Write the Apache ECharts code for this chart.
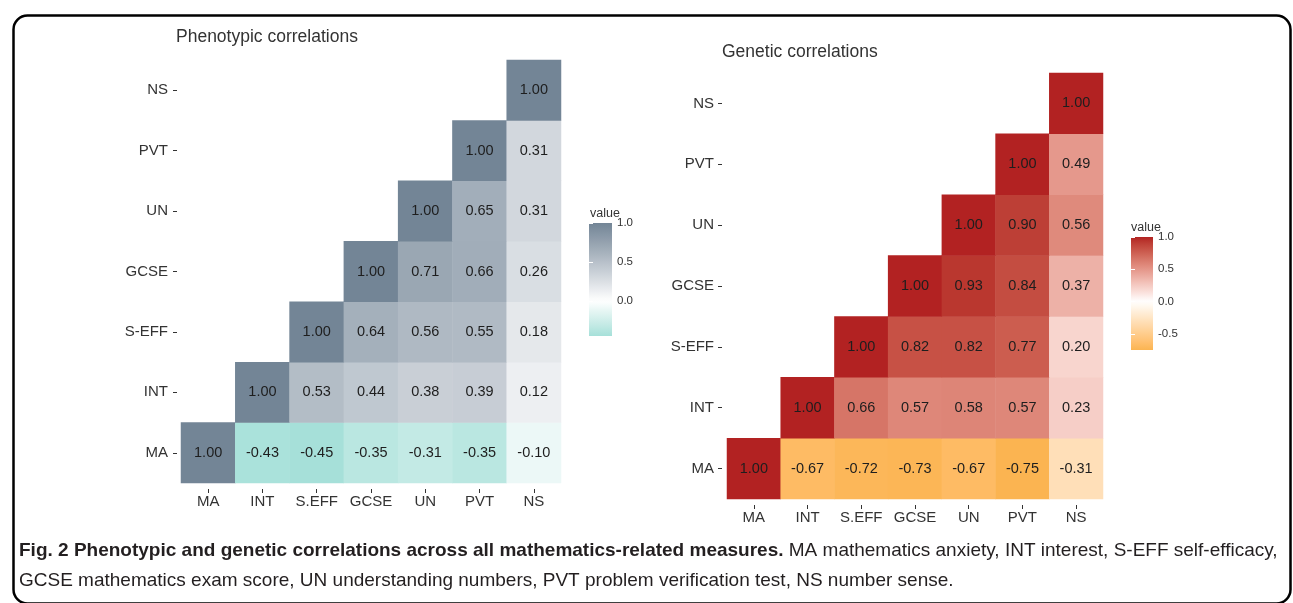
<!DOCTYPE html>
<html>
<head>
<meta charset="utf-8">
<script src="https://cdn.jsdelivr.net/npm/echarts@6/dist/echarts.min.js"></script>
<style>
html,body{margin:0;padding:0;background:#fff;}
#chart{width:1293px;height:603px;}
</style>
</head>
<body>
<div id="chart"></div>
<script>
// ---------- DATA ----------
const xLabels = ['MA', 'INT', 'S.EFF', 'GCSE', 'UN', 'PVT', 'NS'];
const yLabels = ['MA', 'INT', 'S-EFF', 'GCSE', 'UN', 'PVT', 'NS'];

// Phenotypic correlations: each row starts at the diagonal
const phenoMA   = [1.00, -0.43, -0.45, -0.35, -0.31, -0.35, -0.10];
const phenoINT  = [1.00, 0.53, 0.44, 0.38, 0.39, 0.12];
const phenoSEFF = [1.00, 0.64, 0.56, 0.55, 0.18];
const phenoGCSE = [1.00, 0.71, 0.66, 0.26];
const phenoUN   = [1.00, 0.65, 0.31];
const phenoPVT  = [1.00, 0.31];
const phenoNS   = [1.00];

// Genetic correlations
const genMA   = [1.00, -0.67, -0.72, -0.73, -0.67, -0.75, -0.31];
const genINT  = [1.00, 0.66, 0.57, 0.58, 0.57, 0.23];
const genSEFF = [1.00, 0.82, 0.82, 0.77, 0.20];
const genGCSE = [1.00, 0.93, 0.84, 0.37];
const genUN   = [1.00, 0.90, 0.56];
const genPVT  = [1.00, 0.49];
const genNS   = [1.00];

const phenoTicks = [0, 0.5, 1];
const genTicks = [-0.5, 0, 0.5, 1];

const captionBold = 'Fig. 2 Phenotypic and genetic correlations across all mathematics-related measures.';
const captionLine1 = ' MA mathematics anxiety, INT interest, S-EFF self-efficacy,';
const captionLine2 = 'GCSE mathematics exam score, UN understanding numbers, PVT problem verification test, NS number sense.';

// ---------- helpers ----------
function buildCells(rows) {
  const out = [];
  rows.forEach((row, r) => row.forEach((v, k) => out.push([r + k, r, v])));
  return out;
}
const phenoData = buildCells([phenoMA, phenoINT, phenoSEFF, phenoGCSE, phenoUN, phenoPVT, phenoNS]);
const genData = buildCells([genMA, genINT, genSEFF, genGCSE, genUN, genPVT, genNS]);
const phenoMin = Math.min(...phenoData.map(d => d[2]));
const phenoMax = Math.max(...phenoData.map(d => d[2]));
const genMin = Math.min(...genData.map(d => d[2]));
const genMax = Math.max(...genData.map(d => d[2]));

// CIELAB interpolation (like ggplot's gradient2)
function hexToRgb(h) { h = h.replace('#', ''); return [0, 2, 4].map(i => parseInt(h.substr(i, 2), 16)); }
function toLin(c) { c /= 255; return c <= 0.04045 ? c / 12.92 : Math.pow((c + 0.055) / 1.055, 2.4); }
function fromLin(c) { const v = c <= 0.0031308 ? 12.92 * c : 1.055 * Math.pow(c, 1 / 2.4) - 0.055; return Math.round(Math.max(0, Math.min(1, v)) * 255); }
function rgbToLab(rgb) {
  const [R, G, B] = rgb.map(toLin);
  let X = 0.4124 * R + 0.3576 * G + 0.1805 * B;
  let Y = 0.2126 * R + 0.7152 * G + 0.0722 * B;
  let Z = 0.0193 * R + 0.1192 * G + 0.9505 * B;
  X /= 0.95047; Z /= 1.08883;
  const f = t => t > 0.008856 ? Math.cbrt(t) : 7.787 * t + 16 / 116;
  const fx = f(X), fy = f(Y), fz = f(Z);
  return [116 * fy - 16, 500 * (fx - fy), 200 * (fy - fz)];
}
function labToHex(lab) {
  const [L, a, b] = lab;
  const fy = (L + 16) / 116, fx = fy + a / 500, fz = fy - b / 200;
  const inv = t => t * t * t > 0.008856 ? t * t * t : (t - 16 / 116) / 7.787;
  const X = inv(fx) * 0.95047, Y = inv(fy), Z = inv(fz) * 1.08883;
  const R = 3.2406 * X - 1.5372 * Y - 0.4986 * Z;
  const G = -0.9689 * X + 1.8758 * Y + 0.0415 * Z;
  const B = 0.0557 * X - 0.2040 * Y + 1.0570 * Z;
  return '#' + [R, G, B].map(c => fromLin(c).toString(16).padStart(2, '0')).join('');
}
function makeScale(lowHex, lowVal, highHex, highVal) {
  const W = rgbToLab([255, 255, 255]), Lo = rgbToLab(hexToRgb(lowHex)), Hi = rgbToLab(hexToRgb(highHex));
  return v => {
    const t = v >= 0 ? v / highVal : v / lowVal;
    const tgt = v >= 0 ? Hi : Lo;
    return labToHex(W.map((w, i) => w + (tgt[i] - w) * t));
  };
}
const phenoColor = makeScale('#a6e0d9', phenoMin, '#738596', phenoMax);
const genColor = makeScale('#fbb451', genMin, '#b22222', genMax);
function stops(fn, min, max, n) {
  const arr = [];
  for (let i = 0; i < n; i++) arr.push(fn(min + (max - min) * i / (n - 1)));
  return arr;
}
function gradStops(fn, min, max, n) {
  const arr = [];
  for (let i = 0; i <= n; i++) arr.push({ offset: i / n, color: fn(max - (max - min) * i / n) });
  return arr;
}

// ---------- chart ----------
const FONT = '"Liberation Sans", Arial, sans-serif';
const chart = echarts.init(document.getElementById('chart'), null, { renderer: 'canvas' });

function catX(grid, offset, margin) {
  return {
    gridIndex: grid, type: 'category', data: xLabels, position: 'bottom', offset: offset,
    axisLine: { show: false },
    axisTick: { show: true, length: 4, alignWithLabel: true, interval: 0, lineStyle: { color: '#333' } },
    axisLabel: { interval: 0, hideOverlap: false, margin: margin, fontSize: 15, color: '#333', fontFamily: FONT },
    splitLine: { show: false }
  };
}
function catY(grid, offset, margin) {
  return {
    gridIndex: grid, type: 'category', data: yLabels, offset: offset,
    axisLine: { show: false },
    axisTick: { show: true, length: 4, alignWithLabel: true, interval: 0, lineStyle: { color: '#333' } },
    axisLabel: { interval: 0, hideOverlap: false, margin: margin, fontSize: 15, color: '#333', fontFamily: FONT },
    splitLine: { show: false }
  };
}
function legY(grid, min, max, ticks, pos, showLabels) {
  return {
    gridIndex: grid, type: 'value', min: min, max: max, position: pos, z: 10,
    axisLine: { show: false }, splitLine: { show: false },
    axisTick: { show: true, inside: true, length: 4, customValues: ticks, lineStyle: { color: '#ffffff', width: 1 } },
    axisLabel: { show: showLabels, customValues: ticks, formatter: v => v.toFixed(1), margin: 5, fontSize: 11.5, color: '#333', fontFamily: FONT }
  };
}
function heat(xi, yi, data) {
  return {
    type: 'heatmap', xAxisIndex: xi, yAxisIndex: yi, data: data,
    label: { show: true, formatter: p => p.value[2].toFixed(2), fontSize: 14.5, color: '#1e1e1e', fontFamily: FONT },
    emphasis: { disabled: true }, silent: true
  };
}
function colorbar(xi, yi, fn, min, max) {
  return {
    type: 'custom', xAxisIndex: xi, yAxisIndex: yi, data: [[0, 0]], silent: true,
    renderItem: (params, api) => {
      const p0 = api.coord([0, max]);
      const p1 = api.coord([1, min]);
      return {
        type: 'rect',
        shape: { x: p0[0], y: p0[1], width: p1[0] - p0[0], height: p1[1] - p0[1] },
        style: { fill: new echarts.graphic.LinearGradient(0, 0, 0, 1, gradStops(fn, min, max, 30)) }
      };
    }
  };
}

const option = {
  backgroundColor: '#ffffff',
  animation: false,
  textStyle: { fontFamily: FONT },
  title: [
    { text: 'Phenotypic correlations', left: 176, top: 28, padding: 0, textStyle: { fontSize: 17.5, fontWeight: 'normal', color: '#333', fontFamily: FONT } },
    { text: 'Genetic correlations', left: 722, top: 43, padding: 0, textStyle: { fontSize: 17.5, fontWeight: 'normal', color: '#333', fontFamily: FONT } }
  ],
  grid: [
    { left: 181, top: 60, width: 380, height: 423 },
    { left: 727, top: 73, width: 376, height: 426 },
    { left: 589, top: 223, width: 23, height: 113 },
    { left: 1131, top: 237, width: 22, height: 113 }
  ],
  xAxis: [
    catX(0, 6, 5),
    catX(1, 6, 5),
    { gridIndex: 2, type: 'value', min: 0, max: 1, show: false },
    { gridIndex: 3, type: 'value', min: 0, max: 1, show: false }
  ],
  yAxis: [
    catY(0, 4, 9),
    catY(1, 5, 8),
    legY(2, phenoMin, phenoMax, phenoTicks, 'right', true),
    legY(2, phenoMin, phenoMax, phenoTicks, 'left', false),
    legY(3, genMin, genMax, genTicks, 'right', true),
    legY(3, genMin, genMax, genTicks, 'left', false)
  ],
  visualMap: [
    { type: 'continuous', show: false, seriesIndex: 0, dimension: 2, min: phenoMin, max: phenoMax, inRange: { color: stops(phenoColor, phenoMin, phenoMax, 41) } },
    { type: 'continuous', show: false, seriesIndex: 1, dimension: 2, min: genMin, max: genMax, inRange: { color: stops(genColor, genMin, genMax, 41) } }
  ],
  series: [
    heat(0, 0, phenoData),
    heat(1, 1, genData),
    colorbar(2, 2, phenoColor, phenoMin, phenoMax),
    colorbar(3, 4, genColor, genMin, genMax)
  ],
  graphic: [
    { type: 'rect', left: 11, top: 13, z: 100, silent: true,
      shape: { x: 0, y: 0, width: 1277, height: 588, r: 14 },
      style: { fill: 'none', stroke: '#000', lineWidth: 2.5 } },
    { type: 'text', left: 590, top: 207, style: { text: 'value', font: '12.5px ' + FONT, fill: '#333' } },
    { type: 'text', left: 1131, top: 221, style: { text: 'value', font: '12.5px ' + FONT, fill: '#333' } },
    { type: 'text', left: 19, top: 541, style: {
        text: '{b|' + captionBold + '}{n|' + captionLine1 + '}',
        rich: {
          b: { fontFamily: FONT, fontSize: 19, fontWeight: 'bold', fill: '#231f20' },
          n: { fontFamily: FONT, fontSize: 19, fill: '#231f20' }
        }
      } },
    { type: 'text', left: 19, top: 571, style: { text: captionLine2, font: '19px ' + FONT, fill: '#231f20' } }
  ]
};
chart.setOption(option);
</script>
</body>
</html>
